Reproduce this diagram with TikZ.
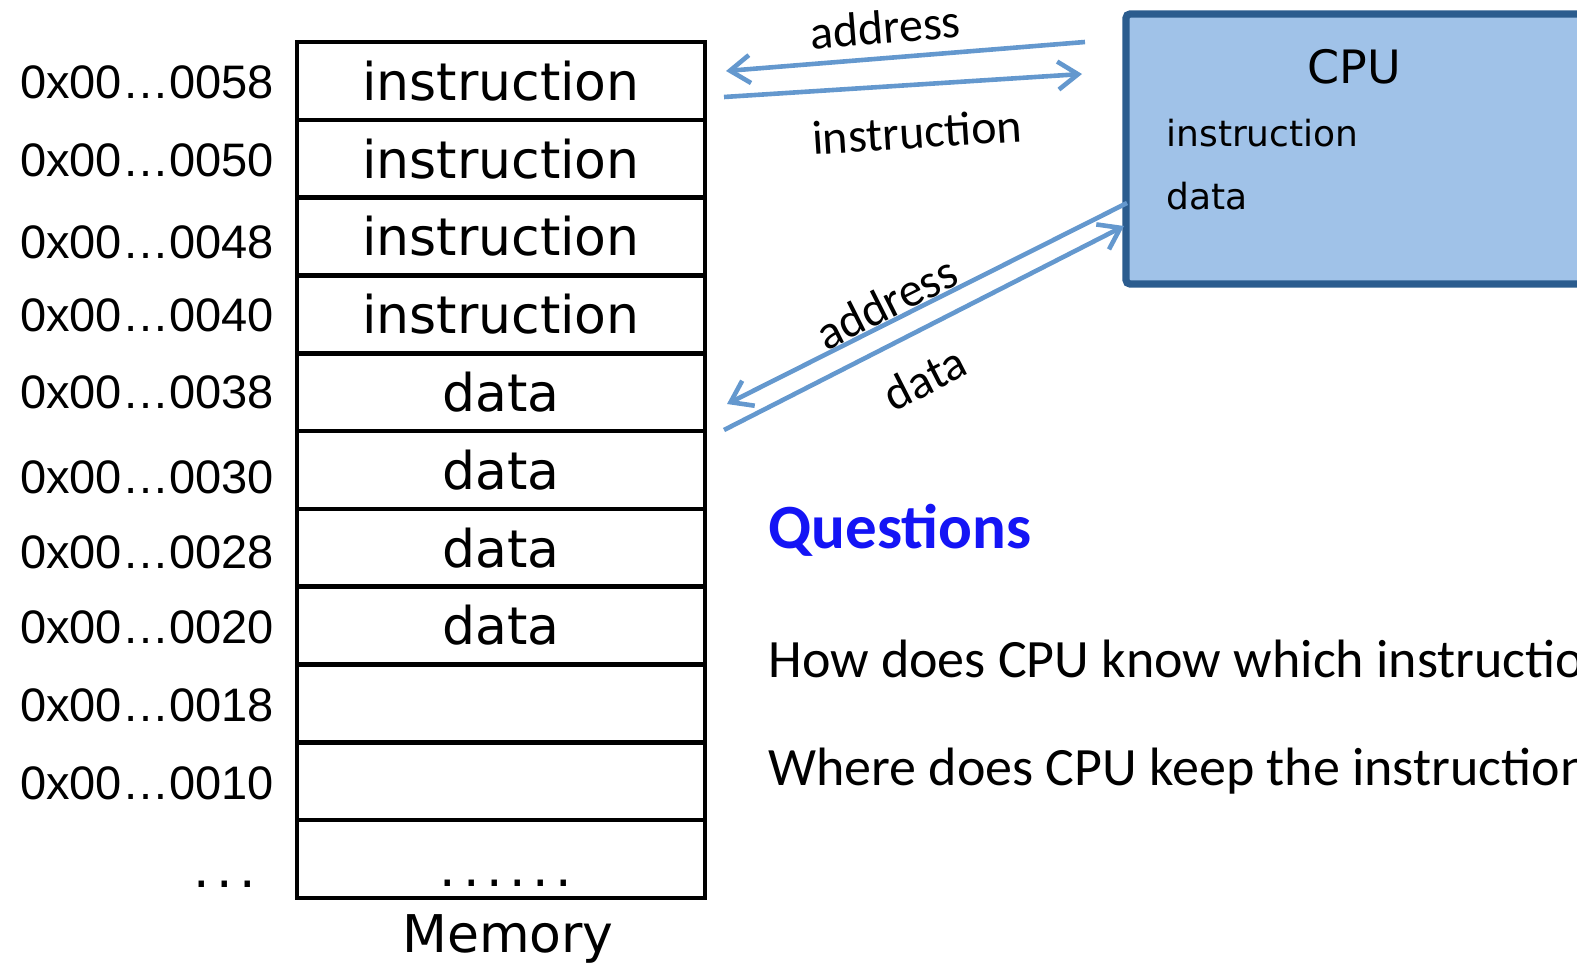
\documentclass[tikz,border=0pt]{standalone}
\usepackage{fontspec}
\setmainfont{DejaVu Sans}
\newfontfamily\addrfont{Liberation Sans}
\newfontfamily\slidefont{Carlito}
\usetikzlibrary{positioning,arrows.meta}

\definecolor{busblue}{RGB}{100,152,206}
\definecolor{cpufill}{RGB}{160,194,232}
\definecolor{cpuedge}{RGB}{43,92,142}
\definecolor{qblue}{RGB}{20,20,245}

\tikzset{
	cell/.style={draw, line width=2.3pt, minimum width=204pt, minimum height=38.9pt,
		inner sep=0pt, outer sep=0pt, font=\fontsize{26}{30}\selectfont},
	addr/.style={anchor=east, inner sep=0pt, font=\addrfont\fontsize{23.5}{28}\selectfont},
	bus/.style={busblue, line width=2.3pt, >={Straight Barb[length=10pt,width=14pt]}},
	buslbl/.style={inner sep=0pt, sloped, text=black, font=\slidefont\fontsize{24}{28}\selectfont},
	cpubox/.style={draw=cpuedge, fill=cpufill, line width=3.6pt, rounded corners=2pt,
		inner sep=0pt, outer sep=0pt},
	cpulbl/.style={inner sep=0pt, anchor=base west, font=\fontsize{18}{22}\selectfont},
	qtext/.style={inner sep=0pt, anchor=base west, font=\slidefont\fontsize{27}{32}\selectfont}
}
\newcommand{\spaceddots}[1]{\foreach \k in {1,...,#1}{.\ifnum\k<#1\kern3.3pt\fi}}

\begin{document}
\begin{tikzpicture}[x=0.5pt,y=-0.5pt]

	\useasboundingbox (0,0) rectangle (1577,963);
	\clip (0,0) rectangle (1577,963);

	% memory cells and addresses
	\foreach \txt/\addr/\ay [count=\i] in {instruction/0058/82, instruction/0050/160,
		instruction/0048/242, instruction/0040/315, data/0038/392, data/0030/477,
		data/0028/552, data/0020/627, {}/0018/705, {}/0010/783} {
		\node[cell] (m\i) at (501, {42+77.8*(\i-0.5)}) {\txt};
		\node[addr] (a\i) at (274, \ay) {0x00…\addr};
	}
	\node[cell] (m11) at (501, {42+77.8*10.5}) {};
	\node[inner sep=0pt, anchor=base, font=\fontsize{26}{30}\selectfont] (celldots) at (506, 886) {\spaceddots{6}};
	\node[inner sep=0pt, anchor=base, font=\fontsize{26}{30}\selectfont] (a11) at (225, 887) {\spaceddots{3}};
	\node[inner sep=0pt, anchor=base, font=\fontsize{26}{30}\selectfont] (memname) at (508, 952) {Memory};

	% cpu
	\node[cpubox, anchor=north west, minimum width=250pt, minimum height=135pt] (cpu) at (1126,14) {};
	\node[inner sep=0pt, font=\fontsize{23}{27}\selectfont] (cpuname) at (1354,67) {CPU};
	\node[cpulbl] (cpuins) at (1166,147) {instruction};
	\node[cpulbl] (cpudata) at (1166,209) {data};

	% buses
	\coordinate (tA) at (1085,42);
	\coordinate (mA) at (726,71);
	\coordinate (mI) at (724,97);
	\coordinate (tI) at (1082,74);
	\coordinate (cA) at (1127,203);
	\coordinate (mB) at (727,404);
	\coordinate (mD) at (724,430);
	\coordinate (cD) at (1124,226);

	\draw[bus, <-] (mA) -- node[buslbl, pos=0.45, above=6pt] (lbladdr) {address} (tA);
	\draw[bus, ->] (mI) -- node[buslbl, pos=0.53, below=14pt] (lblins) {instruction} (tI);
	\draw[bus, <-] (mB) -- node[buslbl, pos=0.42, above=0pt] (lbladdrb) {address} (cA);
	\draw[bus, ->] (mD) -- node[buslbl, pos=0.45, below=13pt] (lbldata) {data} (cD);

	% questions
	\node[qtext, text=qblue, font=\slidefont\bfseries\fontsize{31.5}{36}\selectfont] (qhead) at (768,548) {Questions};
	\node[qtext] (q1) at (768,677) {How does CPU know which instruction};
	\node[qtext] (q2) at (768,785) {Where does CPU keep the instruction};

\end{tikzpicture}
\end{document}
